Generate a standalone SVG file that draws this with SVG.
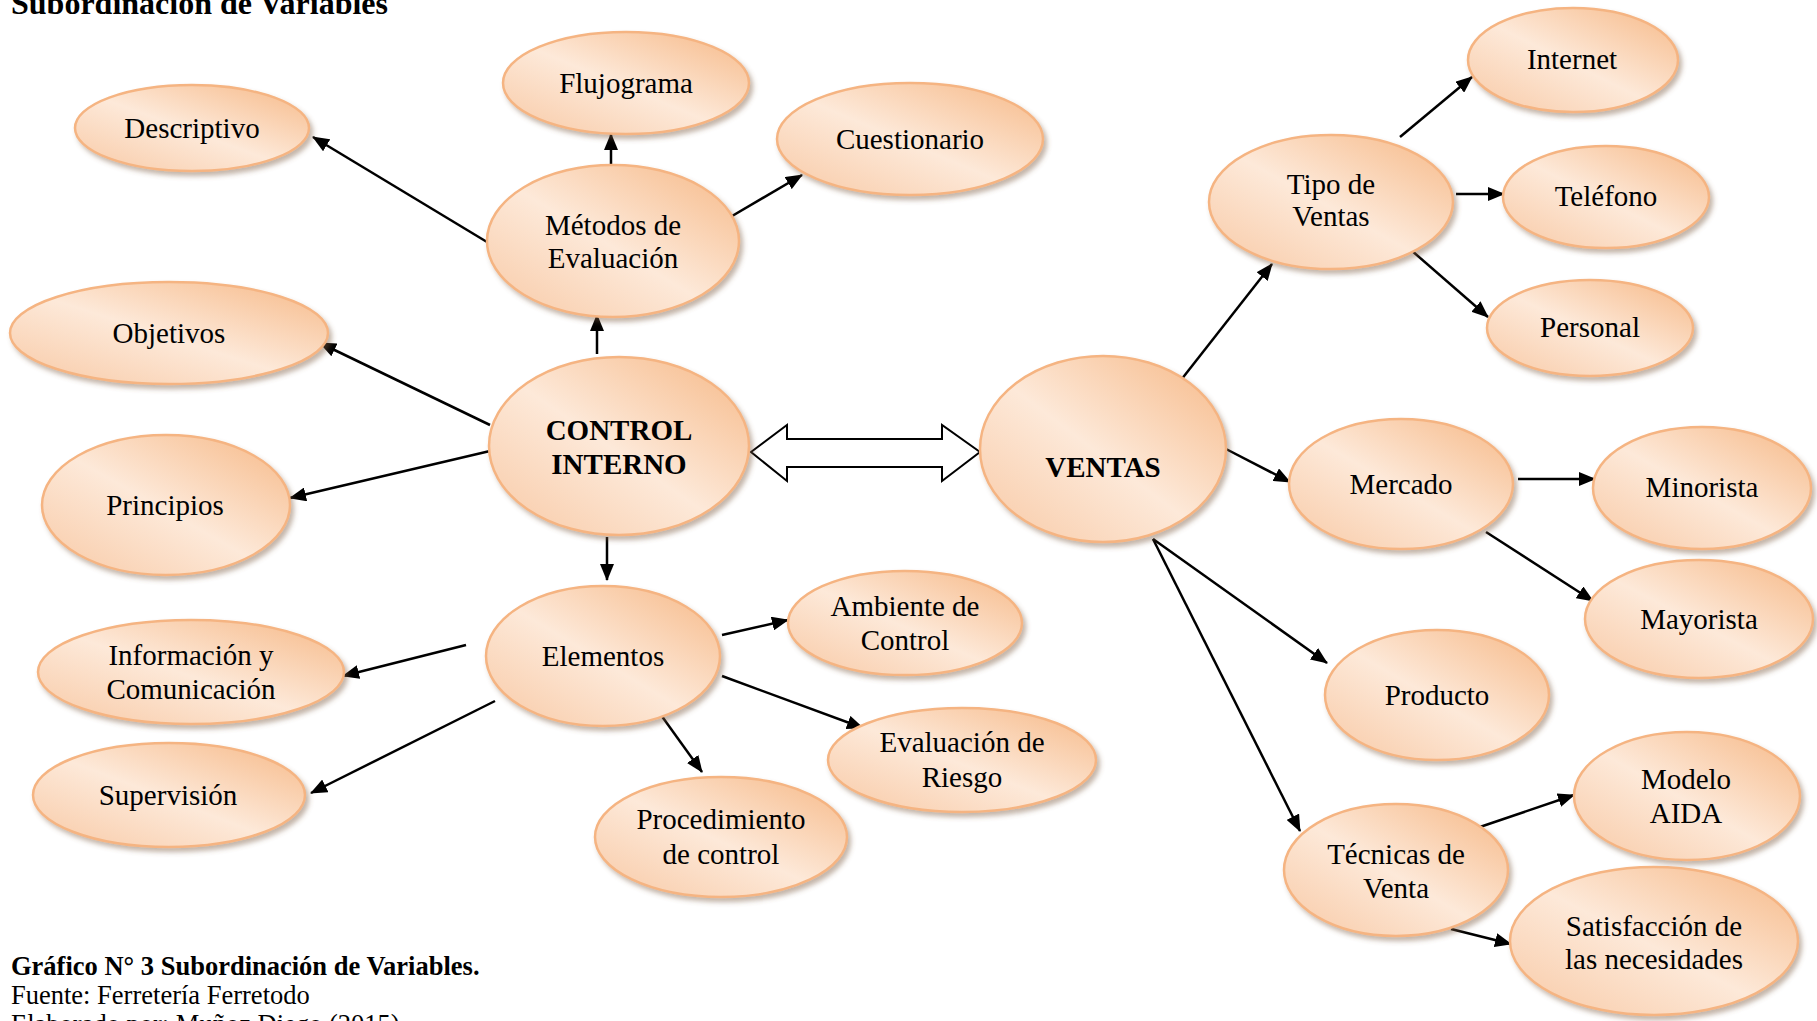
<svg xmlns="http://www.w3.org/2000/svg" width="1817" height="1021" viewBox="0 0 1817 1021">
  <style>
    .node ellipse { fill: url(#peach); stroke: #f5b482; stroke-width: 2.5; filter: url(#shadow); }
    .node text { font-family: "Liberation Serif", "Times New Roman", serif; font-size: 29px; fill: #000; text-anchor: middle; }
    .node text.bold { font-weight: bold; }
    .edge { stroke: #000; stroke-width: 2.5; fill: none; marker-end: url(#arrow); }
    .caption { font-family: "Liberation Serif", "Times New Roman", serif; fill: #000; }
  </style>
  <defs>
    <!-- diagonal shading: darker top-right, light band, medium bottom-left -->
    <linearGradient id="peach" x1="1" y1="0" x2="0" y2="1">
      <stop offset="0" stop-color="#f6b886"/>
      <stop offset="0.52" stop-color="#fde9d9"/>
      <stop offset="1" stop-color="#f8c9a5"/>
    </linearGradient>
    <filter id="shadow" x="-10%" y="-10%" width="125%" height="130%">
      <feDropShadow dx="3" dy="4" stdDeviation="2.5" flood-color="#7a5a40" flood-opacity="0.45"/>
    </filter>
    <marker id="arrow" markerUnits="userSpaceOnUse" markerWidth="18" markerHeight="14" refX="16" refY="7" orient="auto">
      <path d="M0,0 L17,7 L0,14 Z" fill="#000"/>
    </marker>
  </defs>

  <rect width="1817" height="1021" fill="#fff"/>

  <!-- heading, partly above the top edge -->
  <text class="caption" x="11" y="14" font-size="32" font-weight="bold">Subordinación de Variables</text>

  <!-- connectors -->
  <g id="connectors">
    <line class="edge" x1="487" y1="242" x2="313" y2="137"/>
    <line class="edge" x1="611" y1="166" x2="611" y2="134"/>
    <line class="edge" x1="727" y1="219" x2="802" y2="175"/>
    <line class="edge" x1="597" y1="354" x2="597" y2="315"/>
    <line class="edge" x1="490" y1="425" x2="320" y2="343"/>
    <line class="edge" x1="490" y1="451" x2="290" y2="498"/>
    <line class="edge" x1="607" y1="537" x2="607" y2="580"/>
    <line class="edge" x1="466" y1="645" x2="343" y2="676"/>
    <line class="edge" x1="495" y1="701" x2="311" y2="793"/>
    <line class="edge" x1="722" y1="635" x2="788" y2="620"/>
    <line class="edge" x1="722" y1="676" x2="863" y2="728"/>
    <line class="edge" x1="661" y1="715" x2="702" y2="772"/>
    <line class="edge" x1="1181" y1="380" x2="1272" y2="264"/>
    <line class="edge" x1="1400" y1="137" x2="1472" y2="77"/>
    <line class="edge" x1="1456" y1="194" x2="1504" y2="194"/>
    <line class="edge" x1="1411" y1="250" x2="1488" y2="317"/>
    <line class="edge" x1="1226" y1="449" x2="1290" y2="482"/>
    <line class="edge" x1="1518" y1="479" x2="1595" y2="479"/>
    <line class="edge" x1="1486" y1="532" x2="1593" y2="601"/>
    <line class="edge" x1="1153" y1="539" x2="1327" y2="663"/>
    <line class="edge" x1="1153" y1="539" x2="1300" y2="831"/>
    <line class="edge" x1="1474" y1="829" x2="1574" y2="795"/>
    <line class="edge" x1="1451" y1="929" x2="1511" y2="944"/>
    <!-- hollow two-way arrow between the two variables -->
    <polygon points="751,452 787,425 787,439 942,439 942,425 980,452 942,481 942,467 787,467 787,481" fill="#fff" stroke="#000" stroke-width="2"/>
  </g>

  <!-- CONTROL INTERNO branch -->
  <g id="control-interno" class="node">
    <ellipse cx="619" cy="446" rx="130" ry="89"/>
    <text class="bold" x="619" y="440">CONTROL</text>
    <text class="bold" x="619" y="474">INTERNO</text>
  </g>
  <g id="metodos" class="node">
    <ellipse cx="613" cy="241" rx="126" ry="76"/>
    <text x="613" y="235">Métodos de</text>
    <text x="613" y="268">Evaluación</text>
  </g>
  <g id="descriptivo" class="node">
    <ellipse cx="192" cy="128" rx="117" ry="43"/>
    <text x="192" y="138">Descriptivo</text>
  </g>
  <g id="flujograma" class="node">
    <ellipse cx="626" cy="83" rx="123" ry="51"/>
    <text x="626" y="93">Flujograma</text>
  </g>
  <g id="cuestionario" class="node">
    <ellipse cx="910" cy="139" rx="133" ry="56"/>
    <text x="910" y="149">Cuestionario</text>
  </g>
  <g id="objetivos" class="node">
    <ellipse cx="169" cy="333" rx="159" ry="51"/>
    <text x="169" y="343">Objetivos</text>
  </g>
  <g id="principios" class="node">
    <ellipse cx="166" cy="505" rx="124" ry="70"/>
    <text x="165" y="515">Principios</text>
  </g>
  <g id="elementos" class="node">
    <ellipse cx="603" cy="656" rx="117" ry="70"/>
    <text x="603" y="666">Elementos</text>
  </g>
  <g id="informacion" class="node">
    <ellipse cx="191" cy="672" rx="153" ry="52"/>
    <text x="191" y="665">Información y</text>
    <text x="191" y="699">Comunicación</text>
  </g>
  <g id="supervision" class="node">
    <ellipse cx="169" cy="795" rx="136" ry="52"/>
    <text x="168" y="805">Supervisión</text>
  </g>
  <g id="ambiente" class="node">
    <ellipse cx="905" cy="623" rx="117" ry="52"/>
    <text x="905" y="616">Ambiente de</text>
    <text x="905" y="650">Control</text>
  </g>
  <g id="riesgo" class="node">
    <ellipse cx="962" cy="760" rx="134" ry="52"/>
    <text x="962" y="752">Evaluación de</text>
    <text x="962" y="787">Riesgo</text>
  </g>
  <g id="procedimiento" class="node">
    <ellipse cx="721" cy="837" rx="126" ry="60"/>
    <text x="721" y="829">Procedimiento</text>
    <text x="721" y="864">de control</text>
  </g>

  <!-- VENTAS branch -->
  <g id="ventas" class="node">
    <ellipse cx="1103" cy="449" rx="123" ry="93"/>
    <text class="bold" x="1103" y="477">VENTAS</text>
  </g>
  <g id="tipo-ventas" class="node">
    <ellipse cx="1331" cy="202" rx="122" ry="67"/>
    <text x="1331" y="194">Tipo de</text>
    <text x="1331" y="226">Ventas</text>
  </g>
  <g id="internet" class="node">
    <ellipse cx="1573" cy="60" rx="105" ry="52"/>
    <text x="1572" y="69">Internet</text>
  </g>
  <g id="telefono" class="node">
    <ellipse cx="1606" cy="197" rx="103" ry="51"/>
    <text x="1606" y="206">Teléfono</text>
  </g>
  <g id="personal" class="node">
    <ellipse cx="1590" cy="328" rx="103" ry="48"/>
    <text x="1590" y="337">Personal</text>
  </g>
  <g id="mercado" class="node">
    <ellipse cx="1401" cy="484" rx="112" ry="65"/>
    <text x="1401" y="494">Mercado</text>
  </g>
  <g id="minorista" class="node">
    <ellipse cx="1702" cy="488" rx="109" ry="61"/>
    <text x="1702" y="497">Minorista</text>
  </g>
  <g id="mayorista" class="node">
    <ellipse cx="1699" cy="619" rx="114" ry="59"/>
    <text x="1699" y="629">Mayorista</text>
  </g>
  <g id="producto" class="node">
    <ellipse cx="1437" cy="695" rx="112" ry="65"/>
    <text x="1437" y="705">Producto</text>
  </g>
  <g id="tecnicas" class="node">
    <ellipse cx="1396" cy="870" rx="112" ry="66"/>
    <text x="1396" y="864">Técnicas de</text>
    <text x="1396" y="898">Venta</text>
  </g>
  <g id="aida" class="node">
    <ellipse cx="1687" cy="796" rx="113" ry="64"/>
    <text x="1686" y="789">Modelo</text>
    <text x="1686" y="823">AIDA</text>
  </g>
  <g id="satisfaccion" class="node">
    <ellipse cx="1654" cy="941" rx="144" ry="74"/>
    <text x="1654" y="936">Satisfacción de</text>
    <text x="1654" y="969">las necesidades</text>
  </g>

  <!-- caption -->
  <text class="caption" x="11" y="975" font-size="26.5" font-weight="bold">Gráfico N° 3 Subordinación de Variables.</text>
  <text class="caption" x="11" y="1004" font-size="26.5">Fuente: Ferretería Ferretodo</text>
  <text class="caption" x="11" y="1033" font-size="26.5">Elaborado por: Muñoz Diego (2015)</text>
</svg>
